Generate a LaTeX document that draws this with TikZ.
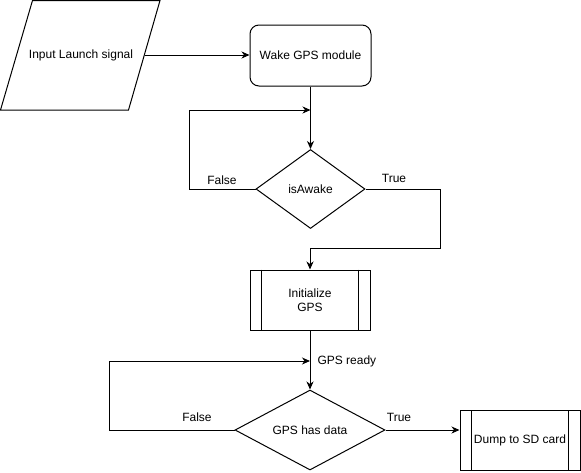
\documentclass[tikz,border=0pt]{standalone}
\usepackage{fontspec}
\setmainfont{Liberation Sans}
\usetikzlibrary{shapes.geometric,arrows.meta}
\begin{document}
\begin{tikzpicture}[x=1pt,y=-1pt,line width=1pt,
  every node/.style={font=\fontsize{12}{14}\selectfont, inner sep=0pt},
  arr/.style={-{Stealth[length=8pt,width=7pt,inset=2.5pt]}},
  procbox/.style={draw, rectangle, rounded corners=9pt, minimum width=121pt, minimum height=61pt, align=center},
  subproc/.style={draw, rectangle, minimum width=120pt, minimum height=60pt, align=center},
  decision/.style={draw, diamond, align=center},
  lbl/.style={font=\fontsize{12}{14}\selectfont}]
\useasboundingbox (0,0) rectangle (581,472);
% input parallelogram
\draw (32.5,0.5) -- (160,0.5) -- (128.5,110) -- (0.5,110) -- cycle;
\node (in) at (81,55) {Input Launch signal};
\coordinate (inR) at (144.5,55);
% wake box
\node[procbox] (wake) at (310.5,55.5) {Wake GPS module};
% isAwake
\node[decision, minimum width=109pt, minimum height=79pt, aspect=1.38] (d1) at (310.5,189) {isAwake};
\coordinate (j1) at (310.5,110);
% Initialize
\node[subproc] (init) at (310,300) {Initialize\\GPS};
\draw ([xshift=12pt]init.north west) -- ([xshift=12pt]init.south west);
\draw ([xshift=-12pt]init.north east) -- ([xshift=-12pt]init.south east);
% GPS has data
\node[decision, minimum width=150pt, minimum height=80pt, aspect=1.875] (d2) at (310,430) {GPS has data};
\coordinate (j3) at (310,361);
% Dump
\node[subproc, minimum width=120pt] (dump) at (520,440.5) {Dump to SD card};
\draw ([xshift=12pt]dump.north west) -- ([xshift=12pt]dump.south west);
\draw ([xshift=-12pt]dump.north east) -- ([xshift=-12pt]dump.south east);
% connectors
\draw[arr] (inR) -- (inR -| wake.west);
\draw[arr] (wake.south) -- (d1.north);
\draw[arr] (d1.west) -- ++(-66,0) |- (j1);
\draw[arr] (d1.east) -- ++(75,0) -- ++(0,59) -| (init.north);
\draw[arr] (init.south) -- (d2.north);
\draw[arr] (d2.west) -- ++(-125,0) |- (j3);
\draw[arr] (d2.east) -- (d2.east -| dump.west);
% labels
\node[lbl] (f1) at (222,180) {False};
\node[lbl] (t1) at (394,178) {True};
\node[lbl, anchor=west] (rdy) at (317,361) {GPS ready};
\node[lbl] (f2) at (197,417) {False};
\node[lbl] (t2) at (399,417) {True};
\end{tikzpicture}
\end{document}
